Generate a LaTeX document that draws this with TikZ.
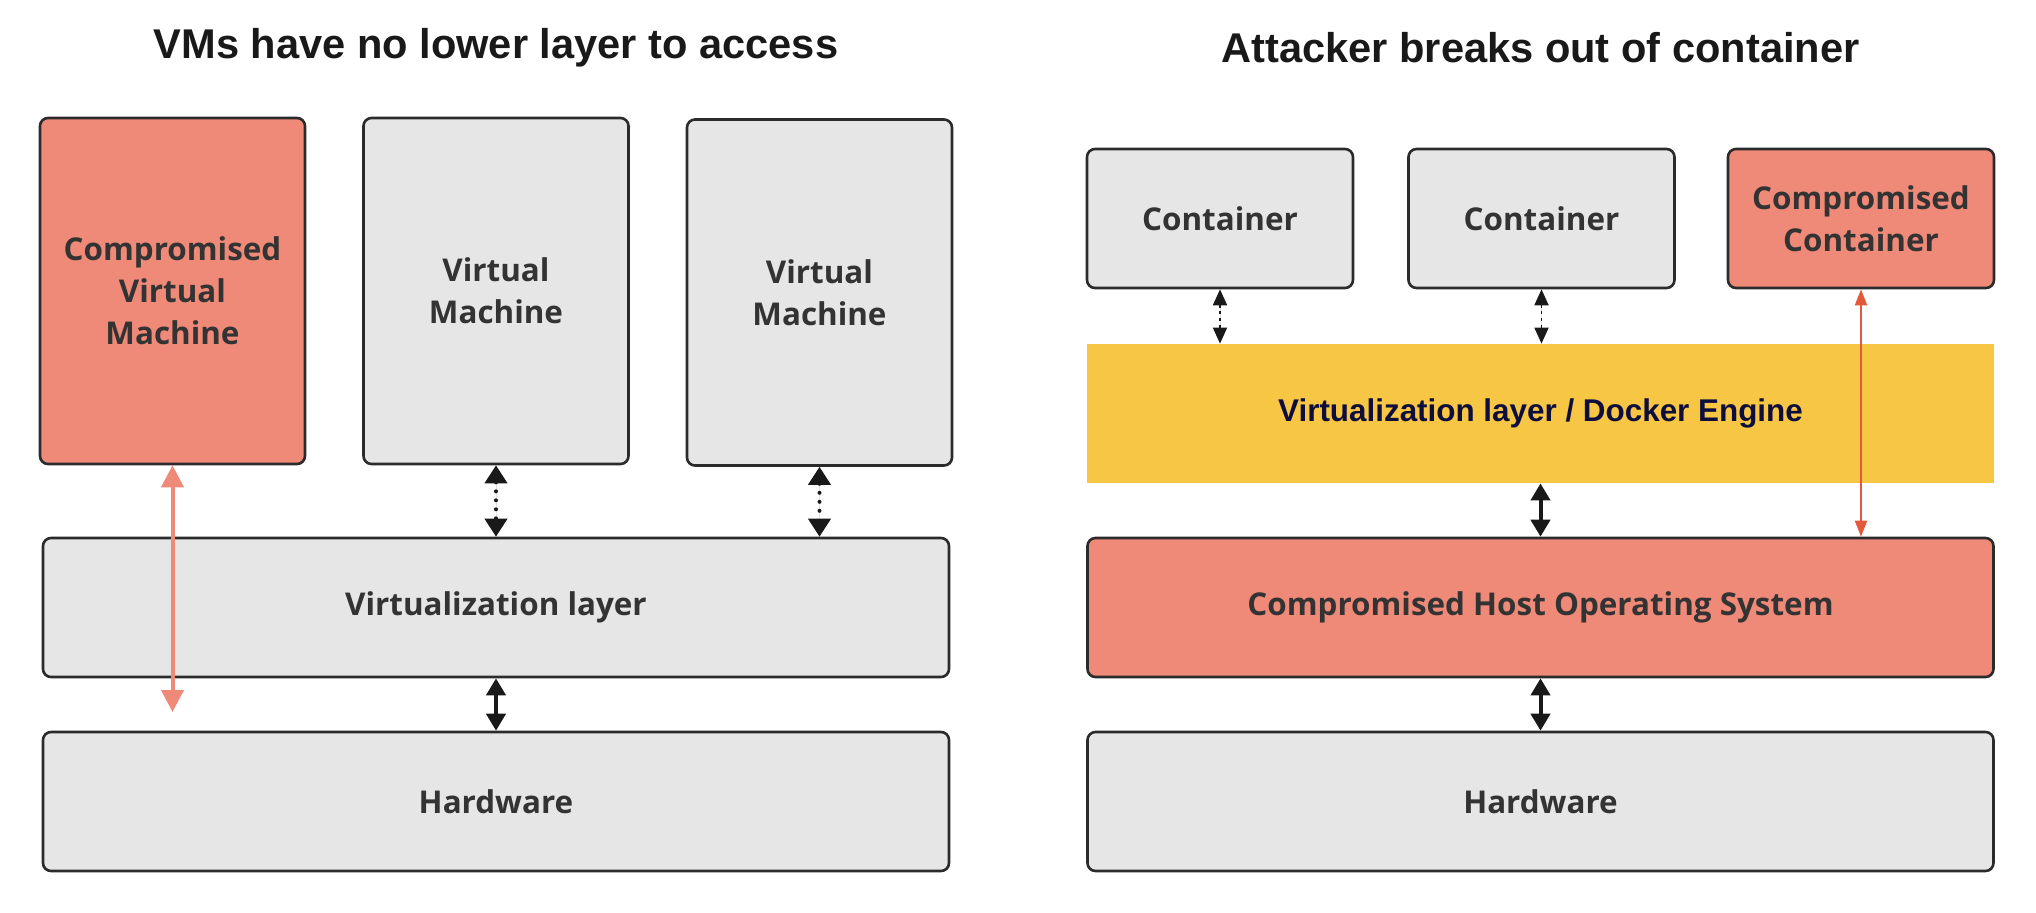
\documentclass[tikz,border=0pt]{standalone}
\usepackage{fontspec}
\setmainfont{Open Sans}
\newfontfamily\headfont{Liberation Sans}
\usetikzlibrary{arrows.meta}
\definecolor{boxgray}{HTML}{E6E6E6}
\definecolor{boxline}{HTML}{2B2B2B}
\definecolor{salmon}{HTML}{F08A78}
\definecolor{dockeryellow}{HTML}{F6C644}
\definecolor{breakred}{HTML}{E4583B}
\definecolor{textgray}{HTML}{333333}
\definecolor{navytext}{HTML}{0E0E3C}

\begin{document}
\begin{tikzpicture}[
    x = 0.5pt, y = -0.5pt,
    > = {Triangle[width=9.5pt,length=8.5pt]},
    heading/.style={font=\headfont\fontsize{20.8}{24}\selectfont\bfseries, text=black!90},
    layer/.style={rectangle, rounded corners=4pt, draw=boxline, line width=1.3pt,
        fill=boxgray, text=textgray, align=center, inner sep=0pt,
        font=\fontsize{15.7}{21}\selectfont\bfseries},
    hot/.style={fill=salmon},
    vmbox/.style={layer, minimum width=132.5pt, minimum height=173pt},
    ctrbox/.style={layer, minimum width=133pt, minimum height=69.5pt},
    widebox/.style={layer, minimum width=453pt, minimum height=69.5pt},
    solidarrow/.style={<->, line width=2pt, draw=black!90, fill=black!90},
    dotarrow/.style={<->, line width=2pt, draw=black!90, fill=black!90,
        dash pattern=on 0pt off 4.5pt, line cap=round,
        > = {Triangle[width=11pt,length=9pt]}},
    thindot/.style={<->, line width=0.9pt, draw=black!90, fill=black!90,
        dash pattern=on 1.5pt off 1.8pt,
        > = {Triangle[width=7pt,length=8pt]}},
    leakarrow/.style={<->, line width=2pt, draw=salmon, fill=salmon,
        > = {Triangle[width=11pt,length=11pt]}},
    breakarrow/.style={<->, line width=1pt, draw=breakred, fill=breakred,
        > = {Triangle[width=6pt,length=8pt]}}
]
    \useasboundingbox (0,0) rectangle (2036,912);

    % virtual machines
    \node[heading] (titleL) at (496,48) {VMs have no lower layer to access};
    \node[vmbox, hot] (cvm) at (172.5,291) {Compromised\\Virtual\\Machine};
    \node[vmbox] (vmb) at (496,291) {Virtual\\Machine};
    \node[vmbox] (vmc) at (819.5,292.5) {Virtual\\Machine};
    \node[widebox] (vlayer) at (496,607.5) {Virtualization layer};
    \node[widebox] (hwl) at (496,801.5) {Hardware};
    \coordinate (leak) at (170,712);

    % containers
    \node[heading] (titleR) at (1540.5,48) {Attacker breaks out of container};
    \node[ctrbox] (ctra) at (1220,218.5) {Container};
    \node[ctrbox] (ctrb) at (1541.5,218.5) {Container};
    \node[ctrbox, hot] (cctr) at (1861,218.5) {Compromised\\Container};
    \node[rectangle, fill=dockeryellow, minimum width=453.5pt, minimum height=69.5pt,
        font=\headfont\fontsize{15.7}{19}\selectfont\bfseries, text=navytext]
        (docker) at (1540.5,413.5) {Virtualization layer / Docker Engine};
    \node[widebox, hot] (hostos) at (1540.5,607.5) {Compromised Host Operating System};
    \node[widebox] (hwr) at (1540.5,801.5) {Hardware};

    \draw[dotarrow] (vmb.south) -- (vlayer.north);
    \draw[dotarrow] (vmc.south) -- (vmc.south |- vlayer.north);
    \draw[solidarrow] (vlayer.south) -- (hwl.north);
    \draw[leakarrow] (cvm.south) -- (cvm.south |- leak);

    \draw[thindot] (ctra.south) -- (ctra.south |- docker.north);
    \draw[thindot] (ctrb.south) -- (ctrb.south |- docker.north);
    \draw[solidarrow] (docker.south) -- (docker.south |- hostos.north);
    \draw[solidarrow] (hostos.south) -- (hwr.north);
    \draw[breakarrow] (cctr.south) -- (cctr.south |- hostos.north);
\end{tikzpicture}
\end{document}
